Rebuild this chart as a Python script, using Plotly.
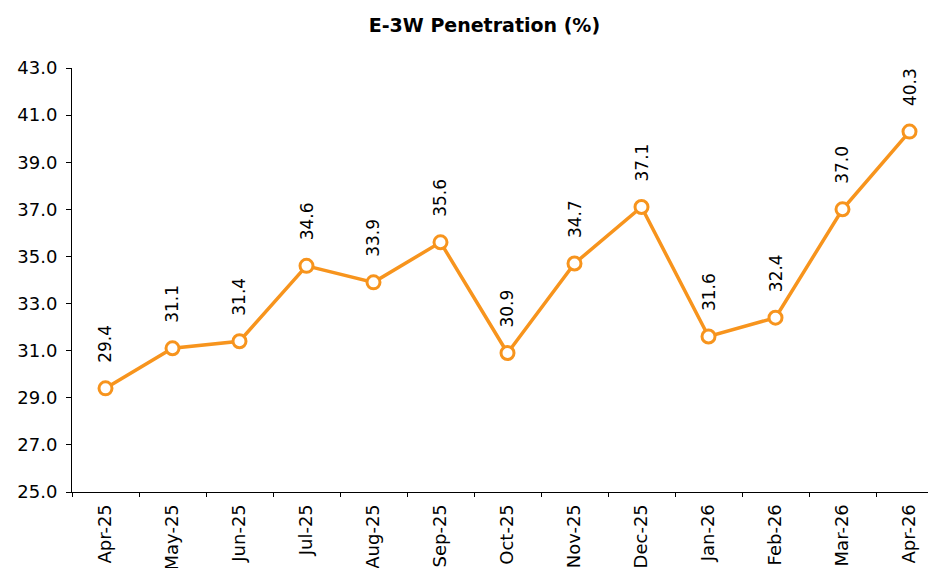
import plotly.graph_objects as go

# monthly E-3W penetration (%)
months = ["Apr-25", "May-25", "Jun-25", "Jul-25", "Aug-25", "Sep-25", "Oct-25",
          "Nov-25", "Dec-25", "Jan-26", "Feb-26", "Mar-26", "Apr-26"]
penetration = [29.4, 31.1, 31.4, 34.6, 33.9, 35.6, 30.9, 34.7, 37.1, 31.6, 32.4, 37.0, 40.3]

orange = "#F7941D"
font_family = "DejaVu Sans"

fig = go.Figure()
fig.add_trace(go.Scatter(
    x=months, y=penetration,
    mode="lines+markers",
    line=dict(color=orange, width=3.5),
    marker=dict(size=13, color="white", line=dict(color=orange, width=3)),
    cliponaxis=False,
    showlegend=False))

# rotated data labels above each point
for m, v in zip(months, penetration):
    fig.add_annotation(
        x=m, y=v, text=f"{v:.1f}",
        textangle=-90, showarrow=False,
        xanchor="center", yanchor="bottom", yshift=23,
        font=dict(family=font_family, size=17, color="black"))

fig.update_layout(
    width=936, height=568,
    margin=dict(l=64, r=1, t=60, b=84),
    paper_bgcolor="white", plot_bgcolor="white",
    title=dict(text="<b>E-3W Penetration (%)</b>", x=0.509, xanchor="center",
               y=0.97, yanchor="middle",
               font=dict(family=font_family, size=19, color="black")),
    font=dict(family=font_family, size=16, color="black"),
    xaxis=dict(
        range=[-0.5, 12.5], automargin=False,
        showline=True, linecolor="black", linewidth=1,
        ticks="outside", ticklen=4, tickcolor="black", tickson="boundaries",
        tickangle=-90, showgrid=False, zeroline=False, ticklabelstandoff=4,
        tickfont=dict(family=font_family, size=18)),
    yaxis=dict(
        range=[25, 43], dtick=2, tick0=25, tickformat=".1f", automargin=False,
        showline=True, linecolor="black", linewidth=1,
        ticks="outside", ticklen=5, tickcolor="black",
        showgrid=False, zeroline=False, ticklabelstandoff=5,
        tickfont=dict(family=font_family, size=18)),
)

fig.write_html("out.html")
